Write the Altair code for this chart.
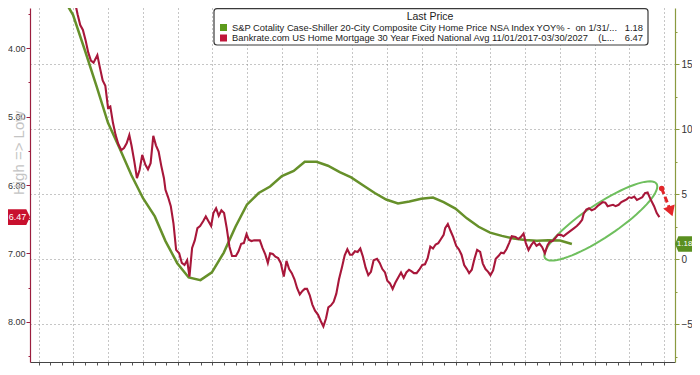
import math
import altair as alt
import pandas as pd

# ---------------- data ----------------
# S&P Cotality Case-Shiller 20-City YoY %, month-end values, Mar 2022 .. Jan 2026
cs_start = "2022-03-31"
cs_yoy = [20.6, 21.1, 20.3, 18.8, 16.1, 13.3, 10.5, 8.5, 6.5, 4.7,
          3.3, 1.4, -0.3, -1.4, -1.6, -1.0, 0.5, 2.5, 4.2, 5.1, 5.6, 6.4,
          6.8, 7.5, 7.5, 7.2, 6.7, 6.3, 5.7, 5.1, 4.6, 4.3, 4.45, 4.65,
          4.75, 4.4, 3.9, 3.15, 2.5, 2.05, 1.8, 1.6, 1.48, 1.43, 1.47, 1.45,
          1.18]

# Bankrate 30Y fixed mortgage rate, weekly, plotted with a 6-month lead
rate_start = "2021-12-22"
rate_lead_months = 6
rate_values = [
    3.15, 3.22, 3.32, 3.50, 3.66, 3.73, 3.88, 4.06, 4.18, 4.21,
    4.10, 4.29, 4.47, 4.55, 4.87, 4.85, 5.09, 5.27, 5.40, 5.49,
    5.46, 5.39, 5.27, 5.43, 5.65, 5.90, 5.78, 5.56, 5.70, 5.77,
    5.68, 5.28, 5.42, 5.51, 5.72, 5.90, 6.07, 6.18, 6.31, 6.56,
    6.95, 7.00, 7.14, 7.17, 7.10, 7.34, 6.92, 6.81, 6.63, 6.60,
    6.53, 6.46, 6.53, 6.60, 6.41, 6.34, 6.45, 6.37, 6.41, 6.63,
    6.90, 7.04, 7.04, 6.97, 6.86, 6.85, 6.72, 6.80, 6.82, 6.81,
    6.81, 6.81, 6.92, 7.01, 7.14, 7.00, 7.01, 7.05, 7.07, 7.14,
    7.34, 7.11, 7.23, 7.29, 7.38, 7.51, 7.60, 7.55, 7.52, 7.52,
    7.61, 7.75, 7.84, 7.90, 7.99, 8.07, 7.95, 7.79, 7.76, 7.71,
    7.59, 7.38, 7.20, 7.03, 6.94, 7.02, 7.02, 6.97, 6.98, 6.93,
    7.05, 7.21, 7.32, 7.27, 7.10, 7.08, 7.14, 7.23, 7.28, 7.40,
    7.44, 7.52, 7.43, 7.35, 7.28, 7.36, 7.28, 7.24, 7.26, 7.29,
    7.29, 7.24, 7.17, 7.16, 7.07, 6.90, 6.93, 6.87, 6.85, 6.79,
    6.73, 6.63, 6.57, 6.67, 6.76, 6.89, 6.94, 7.02, 7.17, 7.23,
    7.29, 7.24, 7.08, 6.95, 6.98, 7.15, 7.23, 7.27, 7.32, 7.25,
    7.08, 7.04, 6.99, 7.00, 6.94, 6.85, 6.75, 6.76, 6.79, 6.76,
    6.71, 6.85, 6.95, 6.88, 6.83, 6.89, 6.86, 6.91, 7.00, 6.88,
    6.83, 6.82, 6.78, 6.73, 6.73, 6.75, 6.72, 6.69, 6.66, 6.63,
    6.60, 6.56, 6.51, 6.42, 6.36, 6.34, 6.37, 6.35, 6.31, 6.28,
    6.25, 6.26, 6.31, 6.30, 6.29, 6.31, 6.29, 6.25, 6.23, 6.21,
    6.18, 6.19, 6.17, 6.22, 6.20, 6.18, 6.12, 6.11, 6.20, 6.31,
    6.41, 6.47,
]

legend_title = "Last Price"
legend_names = [
    "S&P Cotality Case-Shiller 20-City Composite City Home Price NSA Index YOY% -\u00a0 on 1/31/...",
    "Bankrate.com US Home Mortgage 30 Year Fixed National Avg 11/01/2017-03/30/2027\u00a0\u00a0\u00a0 (L...",
]
axis_note = "High => Low"

# annotation anchors (in data space)
ellipse_at = {"date": "2026-04-17", "yoy": 2.95}
arrow_from = {"date": "2026-09-24", "yoy": 5.45}
arrow_to = {"date": "2026-10-17", "yoy": 3.75}

# ---------------- frames ----------------
cs_df = pd.DataFrame({
    "date": pd.date_range(cs_start, periods=len(cs_yoy), freq=pd.offsets.MonthEnd()),
    "yoy": cs_yoy,
})
rate_df = pd.DataFrame({
    "date": pd.date_range(rate_start, periods=len(rate_values), freq="7D")
    + pd.DateOffset(months=rate_lead_months),
    "rate": rate_values,
})
ellipse_df = pd.DataFrame({"date": [pd.Timestamp(ellipse_at["date"])], "yoy": [ellipse_at["yoy"]]})
arrow_df = pd.DataFrame({
    "date": [pd.Timestamp(arrow_from["date"])], "yoy": [arrow_from["yoy"]],
    "date2": [pd.Timestamp(arrow_to["date"])], "yoy2": [arrow_to["yoy"]],
})
one = pd.DataFrame({"k": [0]})

# ---------------- style ----------------
FONT = "Liberation Sans"
GREEN = "#66902a"
RED = "#a8173a"
ELLIPSE = "#6fbf5e"
ARROW = "#e2262a"

W, H = 645, 354

# unit ellipse outline (symbol shape), minor/major ratio 0.246
_pts = [(math.cos(2 * math.pi * i / 72), 0.246 * math.sin(2 * math.pi * i / 72)) for i in range(72)]
ELLIPSE_PATH = "M" + " L".join(f"{px:.4f},{py:.4f}" for px, py in _pts) + " Z"
ARROW_HEAD_PATH = "M-1,-0.7 L1,-0.7 L0,1 Z"

x_scale = alt.Scale(domain=[alt.DateTime(year=2022, month=3, date=9),
                            alt.DateTime(year=2026, month=10, date=29)], nice=False)
month_ticks = []
for yr in range(2022, 2027):
    for mo in range(1, 13):
        if (yr == 2022 and mo < 4) or (yr == 2026 and mo > 10):
            continue
        month_ticks.append(alt.DateTime(year=yr, month=mo, date=1))

x_axis = alt.Axis(values=month_ticks, labels=False, title=None, tickSize=3,
                  tickColor="#555555", domainColor="#444444", domainWidth=1,
                  grid=True, gridColor="#8c8c8c", gridDash=[1, 3],
                  gridOpacity={"condition": {"test": "month(datum.value) % 3 === 0", "value": 1}, "value": 0})
x_enc = alt.X("date:T", scale=x_scale, axis=x_axis)

right_axis = alt.Axis(orient="right", values=[-7.5 + 2.5 * i for i in range(11)],
                      labelExpr="datum.value % 5 === 0 ? format(datum.value, 'd') : ''",
                      tickSize={"condition": {"test": "datum.value % 5 === 0", "value": 4}, "value": 2},
                      tickColor="#8a9a40", domainColor="#8a9a40", domainWidth=1.2,
                      labelColor="#333333", labelFontSize=10, labelPadding=2, title=None,
                      grid=True, gridColor="#8c8c8c", gridDash=[1, 3],
                      gridOpacity={"condition": {"test": "datum.value % 5 === 0", "value": 1}, "value": 0})
green_scale = alt.Scale(domain=[-7.90, 19.33], nice=False, zero=False)
y_green = alt.Y("yoy:Q", scale=green_scale, axis=right_axis)

left_axis = alt.Axis(orient="left", values=[3.5 + 0.5 * i for i in range(11)],
                     labelExpr="datum.value % 1 === 0 ? format(datum.value, '.2f') : ''",
                     tickSize={"condition": {"test": "datum.value % 1 === 0", "value": 4}, "value": 2},
                     tickColor="#9c1f3f", domainColor="#9c1f3f", domainWidth=1.2,
                     labelColor="#333333", labelFontSize=9, labelPadding=1, title=None, grid=False)
y_red = alt.Y("rate:Q", scale=alt.Scale(domain=[3.41, 8.59], reverse=True, nice=False, zero=False), axis=left_axis)

# ---------------- green group (right axis) ----------------
green_line = alt.Chart(cs_df).mark_line(color=GREEN, strokeWidth=2.5, clip=True).encode(x=x_enc, y=y_green)
ellipse = alt.Chart(ellipse_df).mark_point(
    shape=ELLIPSE_PATH, size=17956, angle=326.3, filled=False,
    stroke=ELLIPSE, strokeWidth=2, opacity=1,
).encode(x=x_enc, y=y_green)
arrow_line = alt.Chart(arrow_df).mark_rule(color=ARROW, strokeWidth=3, strokeDash=[6, 3]).encode(
    x=x_enc, x2="date2:T", y=y_green, y2="yoy2:Q")
arrow_dot = alt.Chart(arrow_df).mark_point(shape="circle", filled=True, color=ARROW, size=30, opacity=1).encode(
    x=x_enc, y=y_green)
arrow_head = alt.Chart(arrow_df).mark_point(shape=ARROW_HEAD_PATH, filled=True, color=ARROW, size=150,
                                            angle=340, opacity=1, strokeWidth=0).encode(
    x=alt.X("date2:T", scale=x_scale, axis=x_axis), y=alt.Y("yoy2:Q", scale=green_scale, axis=right_axis))
green_last = cs_df.tail(1)
green_tag = alt.Chart(green_last).mark_point(
    shape="M-1,0 L-0.62,-0.9 L1,-0.9 L1,0.9 L-0.62,0.9 Z",
    size=300, filled=True, color="#5a8f1f", opacity=1, strokeWidth=0,
).encode(x=alt.value(W + 8.7), y=y_green)
green_tag_text = alt.Chart(green_last).mark_text(color="white", fontSize=8, align="center", baseline="middle").encode(
    x=alt.value(W + 9.6), y=y_green, text=alt.Text("yoy:Q", format=".2f"))

green_group = alt.layer(green_line, ellipse, arrow_line, arrow_dot, arrow_head, green_tag, green_tag_text)

# ---------------- red group (left axis) ----------------
red_line = alt.Chart(rate_df).mark_line(color=RED, strokeWidth=2.1, clip=True).encode(x=x_enc, y=y_red)
red_last = rate_df.tail(1)
red_tag = alt.Chart(red_last).mark_point(
    shape="M-1,-0.72 L0.66,-0.72 L1,0 L0.66,0.72 L-1,0.72 Z",
    size=484, filled=True, color="#c8102e", opacity=1, strokeWidth=0,
).encode(x=alt.value(-11), y=y_red)
red_tag_text = alt.Chart(red_last).mark_text(color="white", fontSize=9, align="center", baseline="middle").encode(
    x=alt.value(-12.5), y=y_red, text=alt.Text("rate:Q", format=".2f"))
note = alt.Chart(one).mark_text(angle=270, fontSize=15, color="#c4c4c4", align="center", baseline="middle").encode(
    x=alt.value(-11), y=alt.value(145), text=alt.value(axis_note))

LEG_FS = 9.35
legend_box = alt.Chart(one).mark_rect(fill="white", stroke="#3a3a3a", strokeWidth=1.2, cornerRadius=3).encode(
    x=alt.value(184), x2=alt.value(618), y=alt.value(0.6), y2=alt.value(37))
legend_head = alt.Chart(one).mark_text(fontSize=10.5, color="#222222", align="center", baseline="middle").encode(
    x=alt.value(400), y=alt.value(9), text=alt.value(legend_title))
sq1 = alt.Chart(one).mark_rect(fill="#5c9a1b").encode(x=alt.value(190), x2=alt.value(197), y=alt.value(16), y2=alt.value(23))
sq2 = alt.Chart(one).mark_rect(fill="#c0163a").encode(x=alt.value(190), x2=alt.value(197), y=alt.value(26.5), y2=alt.value(33.5))
row1 = alt.Chart(one).mark_text(fontSize=LEG_FS, color="#222222", align="left", baseline="middle").encode(
    x=alt.value(202), y=alt.value(19.5), text=alt.value(legend_names[0]))
row2 = alt.Chart(one).mark_text(fontSize=LEG_FS, color="#222222", align="left", baseline="middle").encode(
    x=alt.value(202), y=alt.value(30), text=alt.value(legend_names[1]))
val1 = alt.Chart(green_last).mark_text(fontSize=LEG_FS, color="#222222", align="right", baseline="middle").encode(
    x=alt.value(613), y=alt.value(19.5), text=alt.Text("yoy:Q", format=".2f"))
val2 = alt.Chart(red_last).mark_text(fontSize=LEG_FS, color="#222222", align="right", baseline="middle").encode(
    x=alt.value(613), y=alt.value(30), text=alt.Text("rate:Q", format=".2f"))

red_group = alt.layer(red_line, red_tag, red_tag_text, note,
                      legend_box, legend_head, sq1, sq2, row1, row2, val1, val2)

chart = alt.layer(green_group, red_group).resolve_scale(y="independent").properties(
    width=W, height=H,
    padding={"left": 22, "top": 0, "right": 17, "bottom": 5},
    autosize=alt.AutoSizeParams(type="none"),
).configure(font=FONT).configure_view(stroke=None).configure_axis(labelFont=FONT)

chart.save("out.html", embed_options={"renderer": "svg", "actions": False})
